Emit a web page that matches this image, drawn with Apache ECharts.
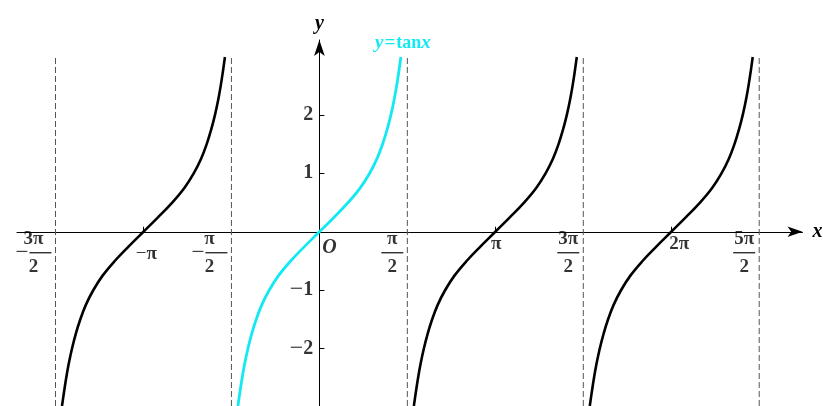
<!DOCTYPE html>
<html>
<head>
<meta charset="utf-8">
<script src="https://cdn.jsdelivr.net/npm/echarts@6/dist/echarts.min.js"></script>
<style>
  html, body { margin: 0; padding: 0; background: #fff; }
  #chart { width: 823px; height: 406px; }
</style>
</head>
<body>
<div id="chart"></div>
<script>
const PI = Math.PI;

// One branch of y = tan x around x = 0 (x in radians)
const branchX = [-1.455, -1.42, -1.38, -1.333, -1.277, -1.21, -1.129, -1.029, -0.897, -0.730, -0.513, -0.263, 0,
                 0.263, 0.513, 0.730, 0.897, 1.029, 1.129, 1.21, 1.277, 1.333, 1.38, 1.42, 1.455];
const branchY = [-2.98, -2.75, -2.5, -2.25, -2.0, -1.75, -1.5, -1.25, -1.0, -0.75, -0.5, -0.25, 0,
                 0.25, 0.5, 0.75, 1.0, 1.25, 1.5, 1.75, 2.0, 2.25, 2.5, 2.75, 2.99];

// Branch centres: the main branch is highlighted, the others repeat one period over
const mainCenter = 0;
const otherCenters = [-PI, PI, 2 * PI];

// Vertical asymptotes x = π/2 + kπ
const asymptotes = [-3 * PI / 2, -PI / 2, PI / 2, 3 * PI / 2, 5 * PI / 2];
const asymptoteTop = 2.99;

// x-axis tick labels
const xTickValues = [-3 * PI / 2, -PI, -PI / 2, 0, PI / 2, PI, 3 * PI / 2, 2 * PI, 5 * PI / 2];
const xTickTexts = ['-3π/2', '-π', '-π/2', 'O', 'π/2', 'π', '3π/2', '2π', '5π/2'];

// y-axis ticks
const yTickValues = [-2, -1, 1, 2];

const xMin = -5.40, xMax = 8.627;
const yMin = -2.98, yMax = 3.28;

const FONT = '"Liberation Serif", "DejaVu Serif", serif';
const CYAN = '#12e9f2';

function branchData(center) {
  return branchX.map((x, i) => [x + center, branchY[i]]);
}

const labelRich = {
  num: { fontFamily: FONT, fontSize: 19, fontWeight: 'bold', color: '#000', width: 22, align: 'center', lineHeight: 20 },
  den: { fontFamily: FONT, fontSize: 19, fontWeight: 'bold', color: '#000', width: 22, align: 'center', lineHeight: 20 },
  bar: { width: 22, height: 1.4, backgroundColor: '#000', lineHeight: 8 },
  neg: { fontFamily: FONT, fontSize: 23, color: '#000', lineHeight: 8, padding: [0, 1, 0, 0] },
  plain: { fontFamily: FONT, fontSize: 19, fontWeight: 'bold', color: '#000' },
  pneg: { fontFamily: FONT, fontSize: 19, color: '#000' },
  o: { fontFamily: FONT, fontSize: 20, fontStyle: 'italic', fontWeight: 'bold', color: '#000' },
  m: { fontFamily: FONT, fontSize: 24, color: '#000' },
  d: { fontFamily: FONT, fontSize: 20, fontWeight: 'bold', color: '#000' }
};

function xTickLabel(text, value) {
  const neg = text.startsWith('-');
  const body = neg ? text.slice(1) : text;
  if (body.includes('/')) {
    const [n, d] = body.split('/');
    return {
      formatter: '{num|' + n + '}\n' + (neg ? '{neg|−}' : '') + '{bar|}\n{den|' + d + '}',
      align: 'right', verticalAlign: 'top', position: [-4, -3]
    };
  }
  if (text === 'O') {
    return { formatter: '{o|O}', align: 'left', verticalAlign: 'top', position: [3, 6] };
  }
  const dx = value === 2 * PI ? 8 : (value < 0 ? 3 : 1);
  const dy = value < 0 ? 22 : 12;
  return {
    formatter: (neg ? '{pneg|−}' : '') + '{plain|' + body + '}',
    align: 'center', verticalAlign: 'middle', position: [dx, dy]
  };
}

function yTickLabel(v) {
  return {
    formatter: v < 0 ? '{m|−}{d|' + Math.abs(v) + '}' : '{d|' + v + '}',
    align: 'right', verticalAlign: 'middle', position: [-6, 0]
  };
}

const series = [];

asymptotes.forEach(a => {
  series.push({
    type: 'line', silent: true, symbol: 'none', z: 1,
    data: [[a, yMin], [a, asymptoteTop]],
    lineStyle: { color: '#555', width: 1, type: [6, 3] }
  });
});

otherCenters.forEach(c => {
  series.push({
    type: 'line', silent: true, symbol: 'none', smooth: 0.4, z: 3,
    data: branchData(c),
    lineStyle: { color: '#000', width: 2.6 }
  });
});

series.push({
  type: 'line', silent: true, symbol: 'none', smooth: 0.4, z: 4,
  data: branchData(mainCenter),
  lineStyle: { color: CYAN, width: 2.8 }
});

// Axis tick labels, anchored at their axis positions
const tickLabelItems = xTickValues.map((v, i) => ({ value: [v, 0], l: xTickLabel(xTickTexts[i], v) }))
  .concat(yTickValues.map(v => ({ value: [0, v], l: yTickLabel(v) })));

series.push({
  type: 'scatter', silent: true, z: 5,
  symbolSize: 0.1,
  itemStyle: { color: 'transparent' },
  data: tickLabelItems.map(it => ({
    value: it.value,
    label: {
      show: true, formatter: it.l.formatter, align: it.l.align, verticalAlign: it.l.verticalAlign,
      position: it.l.position, rich: labelRich
    }
  }))
});

const chart = echarts.init(document.getElementById('chart'), null, { renderer: 'canvas' });
chart.setOption({
  animation: false,
  backgroundColor: '#fff',
  title: {
    text: '{i|y}{e|=}{t|tan}{i|x}',
    left: 370, top: 29,
    textStyle: {
      rich: {
        i: { fontFamily: FONT, fontSize: 19, fontStyle: 'italic', fontWeight: 'bold', color: CYAN },
        e: { fontFamily: FONT, fontSize: 19, fontWeight: 'bold', color: CYAN, padding: [0, 1, 0, 1] },
        t: { fontFamily: FONT, fontSize: 18, fontWeight: 'bold', color: CYAN }
      }
    }
  },
  grid: { left: 17, right: 823 - 802.5, top: 40, bottom: 0, containLabel: false, outerBoundsMode: 'none' },
  xAxis: {
    type: 'value', min: xMin, max: xMax,
    name: 'x', nameLocation: 'end', nameGap: 10,
    nameTextStyle: { fontFamily: FONT, fontSize: 20, fontStyle: 'italic', fontWeight: 'bold', color: '#000' },
    axisLine: { onZero: true, symbol: ['none', 'arrow'], symbolSize: [8, 15], lineStyle: { color: '#000', width: 1 } },
    axisTick: { show: true, inside: true, length: 5, customValues: [-PI, PI, 2 * PI], lineStyle: { color: '#000' } },
    axisLabel: { show: false },
    splitLine: { show: false }
  },
  yAxis: {
    type: 'value', min: yMin, max: yMax,
    name: 'y', nameLocation: 'end', nameGap: 6,
    nameTextStyle: { fontFamily: FONT, fontSize: 20, fontStyle: 'italic', fontWeight: 'bold', color: '#000' },
    axisLine: { onZero: true, symbol: ['none', 'arrow'], symbolSize: [8, 16], lineStyle: { color: '#000', width: 1 } },
    axisTick: { show: true, inside: true, length: 5, customValues: yTickValues, lineStyle: { color: '#000' } },
    axisLabel: { show: false },
    splitLine: { show: false }
  },
  series: series
});
</script>
</body>
</html>
